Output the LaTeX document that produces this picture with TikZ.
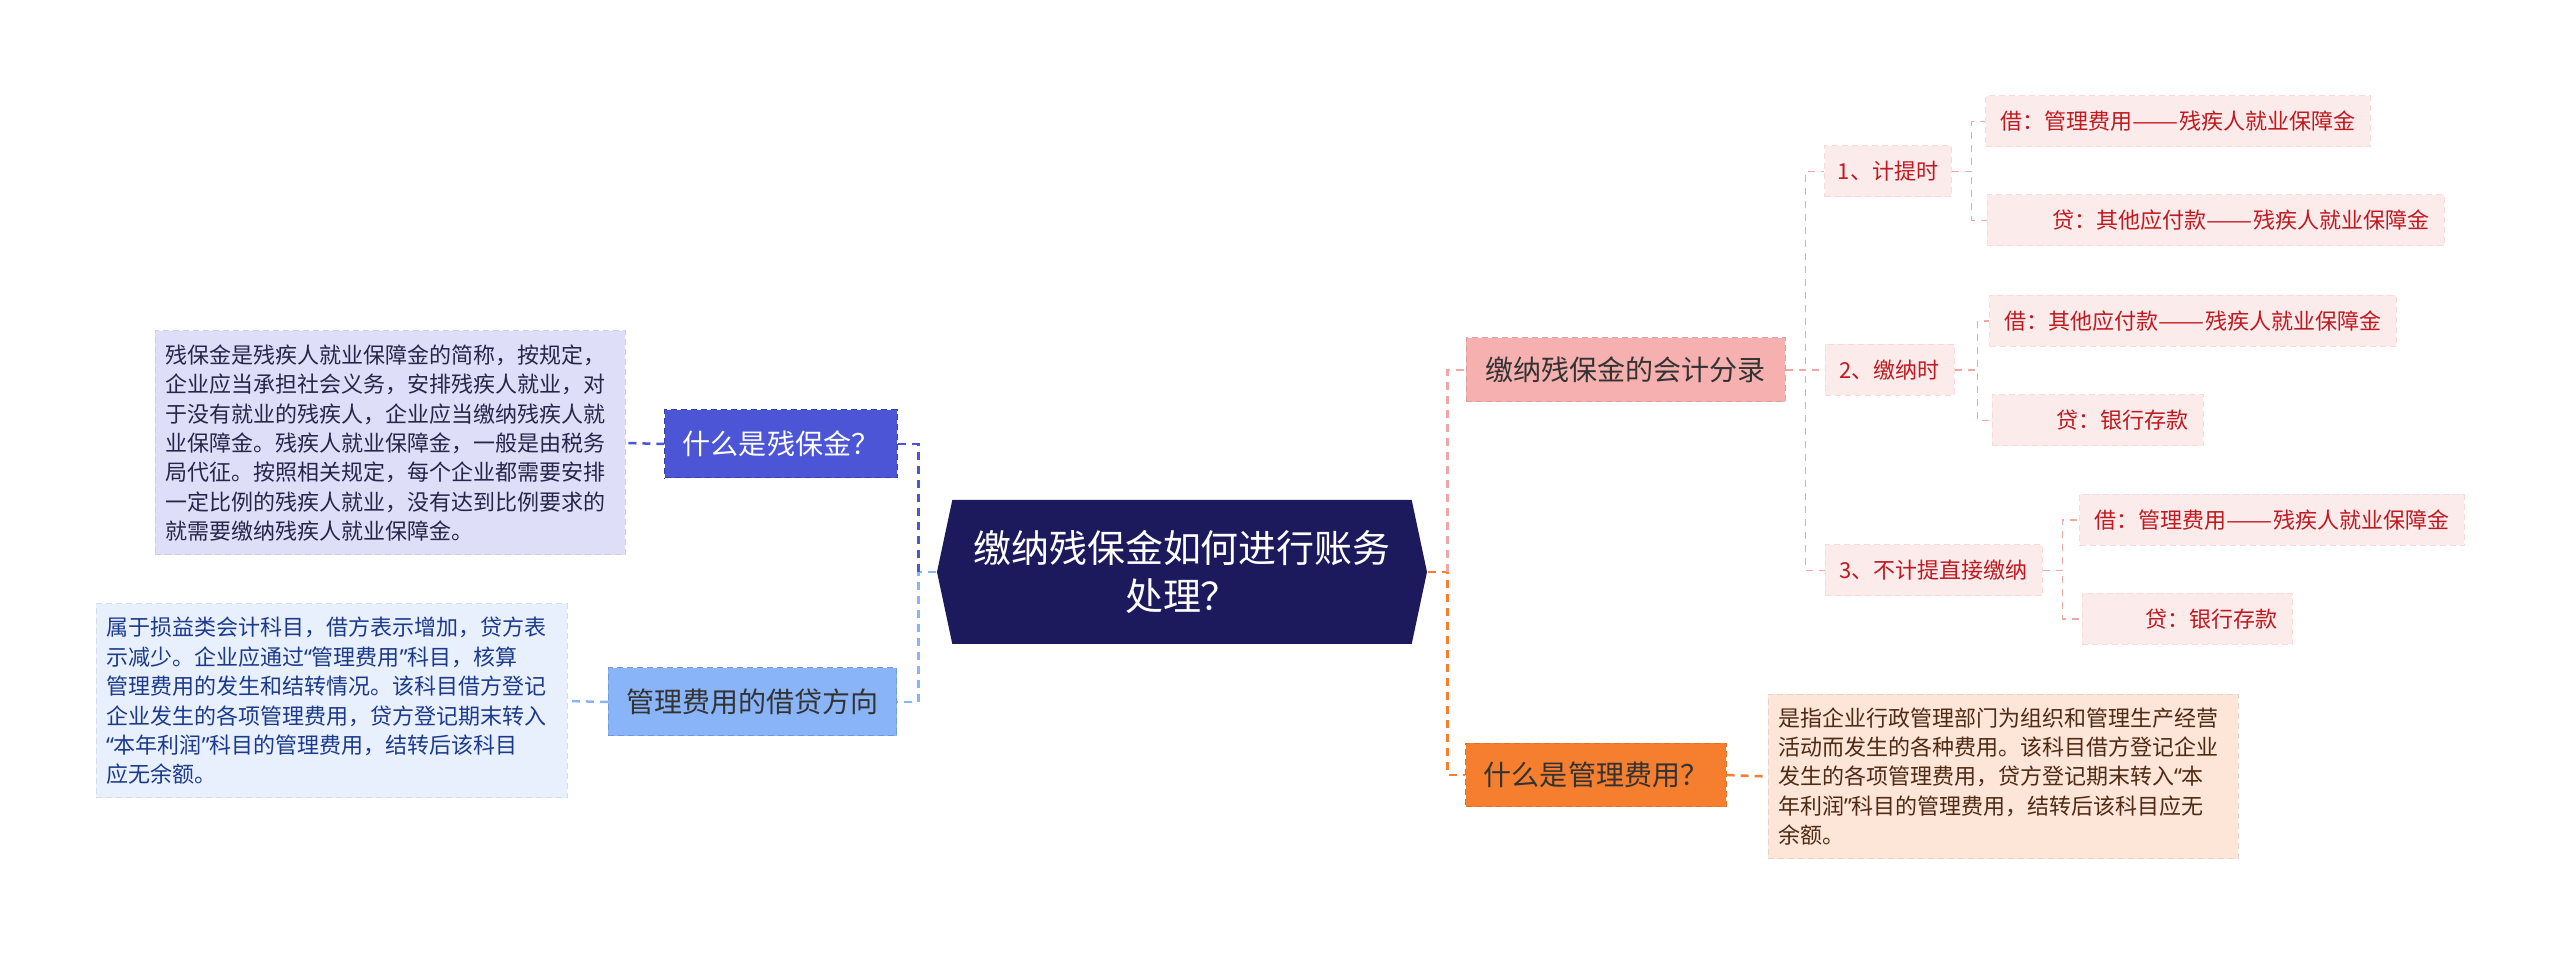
\documentclass[tikz,border=0pt]{standalone}
\usepackage{fontspec}
\setmainfont{Noto Sans CJK SC}
\newfontfamily\qfont{Noto Sans}
\usepackage{tikz}
\usetikzlibrary{shapes.symbols}
\definecolor{rootnavy}{HTML}{1C1A5C}
\definecolor{qpurple}{HTML}{4B55D6}
\definecolor{qblue}{HTML}{8AB4F8}
\definecolor{rpink}{HTML}{F7B0B0}
\definecolor{rorange}{HTML}{F57F2F}
\definecolor{subpink}{HTML}{FCEBEB}
\definecolor{subred}{HTML}{C0191F}
\definecolor{linkpink}{HTML}{F2A7A7}
\definecolor{notepurple}{HTML}{DEDEF8}
\definecolor{noteblue}{HTML}{E8F0FE}
\definecolor{noteorange}{HTML}{FDE5D8}
\definecolor{ntpurple}{HTML}{26264A}
\definecolor{ntblue}{HTML}{1C3A8C}
\definecolor{ntorange}{HTML}{4F2A14}
\definecolor{darktext}{HTML}{333333}
\newcommand\fsroot{\fontsize{10.8pt}{13.9pt}\selectfont}
\newcommand\fstopic{\fontsize{7.97pt}{9.5pt}\selectfont}
\newcommand\fsleaf{\fontsize{6.26pt}{7.5pt}\selectfont}
\newcommand\fsnote{\fontsize{6.26pt}{8.37pt}\selectfont}
\newcommand\longdash{\scalebox{1.25}[1]{——}}
\newcommand\oquote{{\qfont “}}
\newcommand\cquote{{\qfont ”}}

\begin{document}
\begin{tikzpicture}[x=0.1mm,y=-0.1mm,
  rootnode/.style={shape=signal,signal to=east and west,signal pointer angle=156,fill=rootnavy,text=white,
    minimum width=49mm,minimum height=14.4mm,align=center,font=\fsroot},
  topic/.style={rectangle,line width=0.1mm,dash pattern=on 0.6mm off 0.4mm,inner xsep=1.8mm,font=\fstopic},
  sub/.style={rectangle,fill=subpink,draw=subpink!92!red,line width=0.1mm,dash pattern=on 0.6mm off 0.4mm,
    text=subred,inner xsep=1.3mm,minimum height=5.1mm,font=\fsleaf},
  leaf/.style={sub,inner xsep=1.5mm},
  note/.style={rectangle,line width=0.1mm,dash pattern=on 0.6mm off 0.4mm,inner xsep=1mm,inner ysep=0.9mm,
    align=left,font=\fsnote},
  lnk/.style={line width=0.25mm,dash pattern=on 0.8mm off 0.6mm},
  sublnk/.style={line width=0.15mm,dash pattern=on 0.7mm off 0.6mm,draw=linkpink}]
  \useasboundingbox (0,0) rectangle (2560,955);

  \node[rootnode] (root) at (1182,572) {缴纳残保金如何进行账务\\处理？};

  \node[topic,fill=qpurple,draw=qpurple!75!black,text=white,minimum width=23mm,minimum height=6.8mm] (qcbj) at (781,444) {什么是残保金？};
  \node[topic,fill=qblue,draw=qblue!85!black,text=darktext,minimum width=28.7mm,minimum height=6.8mm] (qjd) at (752.5,702) {管理费用的借贷方向};
  \node[topic,fill=rpink,draw=rpink!90!black,text=darktext,minimum width=31.9mm,minimum height=6.4mm] (qfl) at (1625.5,370) {缴纳残保金的会计分录};
  \node[topic,fill=rorange,draw=rorange!90!black,text=darktext,minimum width=26mm,minimum height=6.4mm] (qglfy) at (1596,775) {什么是管理费用？};

  \node[note,fill=notepurple,draw=notepurple!92!black,text=ntpurple,text width=45mm,minimum height=22.4mm] (ncbj) at (390,443) {残保金是残疾人就业保障金的简称，按规定，\\企业应当承担社会义务，安排残疾人就业，对\\于没有就业的残疾人，企业应当缴纳残疾人就\\业保障金。残疾人就业保障金，一般是由税务\\局代征。按照相关规定，每个企业都需要安排\\一定比例的残疾人就业，没有达到比例要求的\\就需要缴纳残疾人就业保障金。};
  \node[note,fill=noteblue,draw=noteblue!92!black,text=ntblue,text width=45.1mm,minimum height=19.4mm] (njd) at (331.5,701) {属于损益类会计科目，借方表示增加，贷方表\\示减少。企业应通过\oquote 管理费用\cquote 科目，核算\\管理费用的发生和结转情况。该科目借方登记\\企业发生的各项管理费用，贷方登记期末转入\\\oquote 本年利润\cquote 科目的管理费用，结转后该科目\\应无余额。};
  \node[note,fill=noteorange,draw=noteorange!92!black,text=ntorange,text width=45mm,minimum height=16.5mm] (nglfy) at (2003,776.5) {是指企业行政管理部门为组织和管理生产经营\\活动而发生的各种费用。该科目借方登记企业\\发生的各项管理费用，贷方登记期末转入\oquote 本\\年利润\cquote 科目的管理费用，结转后该科目应无\\余额。};

  \node[sub,minimum width=12.6mm] (s1) at (1888,171.5) {1、计提时};
  \node[sub,minimum width=12.9mm] (s2) at (1889.5,370) {2、缴纳时};
  \node[sub,minimum width=21.7mm] (s3) at (1933.5,570.5) {3、不计提直接缴纳};

  \node[leaf] (s1a) at (2178,121.5) {借：管理费用\longdash 残疾人就业保障金};
  \node[leaf,text width=42.7mm,align=right] (s1b) at (2215.5,220.5) {贷：其他应付款\longdash 残疾人就业保障金};
  \node[leaf] (s2a) at (2193,321) {借：其他应付款\longdash 残疾人就业保障金};
  \node[leaf,text width=18.1mm,align=right] (s2b) at (2097.5,420.5) {贷：银行存款};
  \node[leaf] (s3a) at (2272,520) {借：管理费用\longdash 残疾人就业保障金};
  \node[leaf,text width=18mm,align=right] (s3b) at (2187,619) {贷：银行存款};

  \draw[lnk,draw=qblue] (root.west) -- ++(-18,0) |- (qjd.east);
  \draw[lnk,draw=qpurple] (root.west) ++(-18,0) |- (qcbj.east);
  \draw[lnk,draw=rorange] (root.east) -- ++(20,0) |- (qglfy.west);
  \draw[lnk,draw=linkpink] (root.east) ++(20,0) |- (qfl.west);

  \draw[lnk,draw=qpurple] (qcbj.west) -- (ncbj.east);
  \draw[lnk,draw=qblue] (qjd.west) -- (njd.east);
  \draw[lnk,draw=rorange] (qglfy.east) -- (nglfy.west);

  \foreach \n in {s1,s2,s3}
    \draw[sublnk] (qfl.east) -- ++(20,0) |- (\n.west);
  \foreach \n in {s1a,s1b}
    \draw[sublnk] (s1.east) -- ++(20,0) |- (\n.west);
  \foreach \n in {s2a,s2b}
    \draw[sublnk] (s2.east) -- ++(23,0) |- (\n.west);
  \foreach \n in {s3a,s3b}
    \draw[sublnk] (s3.east) -- ++(20,0) |- (\n.west);
\end{tikzpicture}
\end{document}
